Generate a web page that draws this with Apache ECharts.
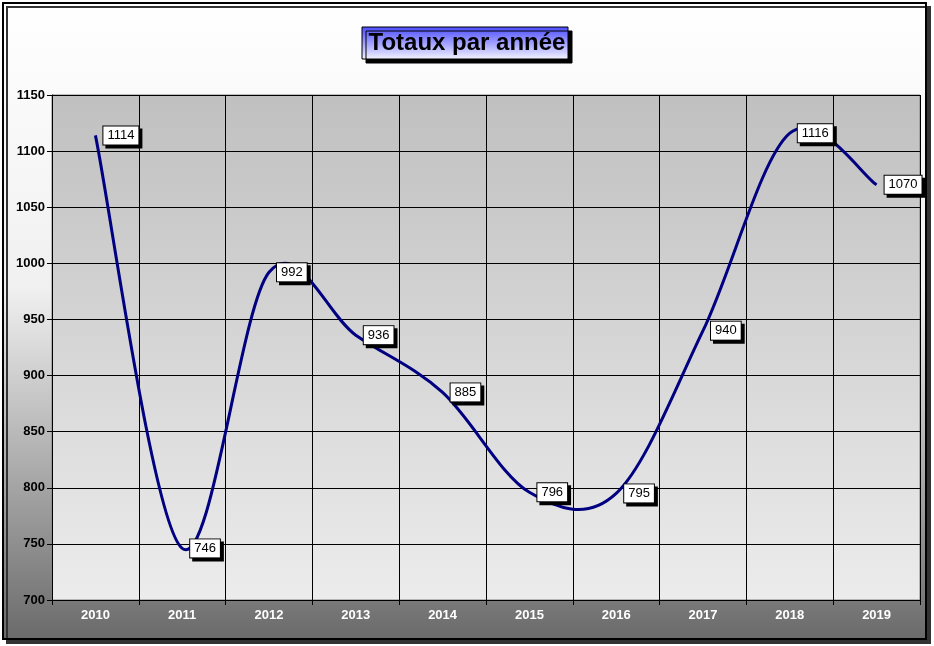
<!DOCTYPE html>
<html>
<head>
<meta charset="utf-8">
<script src="https://cdn.jsdelivr.net/npm/echarts@6/dist/echarts.min.js"></script>
<style>
html,body{margin:0;padding:0;background:#fff;}
#c{width:934px;height:646px;}
</style>
</head>
<body>
<div id="c"></div>
<script>
var years = ['2010','2011','2012','2013','2014','2015','2016','2017','2018','2019'];
var totals = [1114, 746, 992, 936, 885, 796, 795, 940, 1116, 1070];
var yMin = 700, yMax = 1150, yStep = 50;
var titleText = 'Totaux par année';

var FONT = '"Liberation Sans", Arial, sans-serif';
var chart = echarts.init(document.getElementById('c'));

// Catmull-Rom spline through the points given by the axes (like the spreadsheet's smoothed line)
function renderSpline(params, api) {
  if (params.dataIndex !== 0) return null;
  var pts = totals.map(function (v, i) { return api.coord([i, v]); });
  var n = pts.length;
  var d = 'M' + pts[0][0] + ' ' + pts[0][1];
  for (var i = 0; i < n - 1; i++) {
    var p0 = pts[Math.max(i - 1, 0)], p1 = pts[i], p2 = pts[i + 1], p3 = pts[Math.min(i + 2, n - 1)];
    var c1x = p1[0] + (p2[0] - p0[0]) / 6, c1y = p1[1] + (p2[1] - p0[1]) / 6;
    var c2x = p2[0] - (p3[0] - p1[0]) / 6, c2y = p2[1] - (p3[1] - p1[1]) / 6;
    d += ' C' + c1x + ' ' + c1y + ' ' + c2x + ' ' + c2y + ' ' + p2[0] + ' ' + p2[1];
  }
  return {
    type: 'path',
    shape: {pathData: d},
    style: {fill: 'none', stroke: '#000080', lineWidth: 3, lineJoin: 'round'}
  };
}

chart.setOption({
  animation: false,
  graphic: [{
    type: 'rect',
    z: -10,
    silent: true,
    shape: {x: 3, y: 3, width: 923, height: 636},
    style: {
      fill: {type: 'linear', x: 0, y: 0, x2: 0, y2: 1, colorStops: [
        {offset: 0, color: '#ffffff'}, {offset: 0.45, color: '#f0f0f0'}, {offset: 1, color: '#6a6a6a'}]},
      stroke: '#000', lineWidth: 2,
      shadowColor: '#333', shadowOffsetX: 4, shadowOffsetY: 4, shadowBlur: 0
    }
  }, {
    type: 'rect',
    z: -5,
    silent: true,
    shape: {x: 362, y: 27, width: 206, height: 32},
    style: {
      fill: {type: 'linear', x: 0, y: 0, x2: 0, y2: 1, colorStops: [
        {offset: 0, color: '#4a4aff'}, {offset: 1, color: '#f4f4ff'}]},
      stroke: '#000', lineWidth: 1,
      shadowColor: '#000', shadowOffsetX: 4, shadowOffsetY: 4, shadowBlur: 0
    }
  }],
  title: {
    text: titleText,
    left: 'center',
    top: 31,
    padding: 0,
    textStyle: {
      fontFamily: FONT, fontSize: 24, fontWeight: 'bold', color: '#000',
      textShadowColor: 'rgba(0,0,0,0.35)', textShadowOffsetX: 1, textShadowOffsetY: 1, textShadowBlur: 0
    }
  },
  grid: {
    left: 52, right: 14, top: 95, bottom: 46,
    show: true,
    backgroundColor: {type: 'linear', x: 0, y: 0, x2: 0, y2: 1, colorStops: [
      {offset: 0, color: '#c0c0c0'}, {offset: 1, color: '#ececec'}]},
    borderColor: '#808080', borderWidth: 1
  },
  xAxis: {
    type: 'category',
    data: years,
    boundaryGap: true,
    axisLine: {show: true, lineStyle: {color: '#000', width: 1}},
    axisTick: {show: true, length: 5, lineStyle: {color: '#000'}},
    splitLine: {show: true, lineStyle: {color: '#000', width: 1}},
    axisLabel: {color: '#fff', fontFamily: FONT, fontWeight: 'bold', fontSize: 13, margin: 9}
  },
  yAxis: {
    type: 'value',
    min: yMin, max: yMax, interval: yStep,
    axisLine: {show: true, lineStyle: {color: '#000', width: 1}},
    axisTick: {show: true, length: 5, lineStyle: {color: '#000'}},
    splitLine: {show: true, lineStyle: {color: '#000', width: 1}},
    axisLabel: {color: '#000', fontFamily: FONT, fontWeight: 'bold', fontSize: 13, margin: 7,
      formatter: function (v) { return String(v); }}
  },
  series: [{
    type: 'custom',
    data: totals.map(function (v, i) { return [i, v]; }),
    encode: {x: 0, y: 1},
    renderItem: renderSpline,
    silent: true,
    z: 2
  }, {
    type: 'line',
    data: totals,
    symbol: 'circle',
    symbolSize: 2,
    itemStyle: {color: 'rgba(0,0,128,0)'},
    lineStyle: {opacity: 0},
    z: 3,
    label: {
      show: true,
      position: 'right',
      distance: 7,
      color: '#000',
      fontFamily: FONT,
      fontSize: 13,
      lineHeight: 13,
      backgroundColor: '#fff',
      borderColor: '#000',
      borderWidth: 1,
      padding: [3, 4, 2, 4],
      shadowColor: '#000', shadowOffsetX: 3, shadowOffsetY: 3, shadowBlur: 0
    }
  }]
});
</script>
</body>
</html>
